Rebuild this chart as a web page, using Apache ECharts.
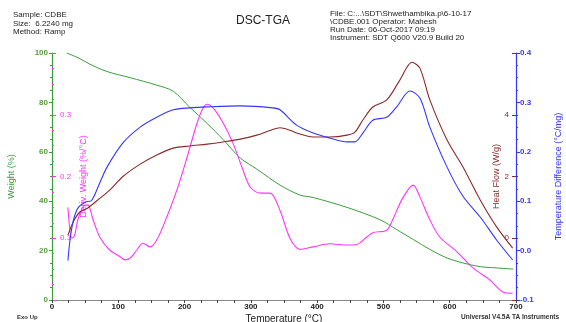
<!DOCTYPE html>
<html>
<head>
<meta charset="utf-8">
<title>DSC-TGA</title>
<script src="https://cdn.jsdelivr.net/npm/echarts@6/dist/echarts.min.js"></script>
<style>
  html, body { margin: 0; padding: 0; background: #fff; }
  #chart { width: 566px; height: 322px; }
</style>
</head>
<body>
<div id="chart"></div>
<script>
// weight (%) vs temperature
const weightT = [22, 40, 57, 83, 118, 158, 183, 208, 234, 258, 284, 309, 344, 374, 394, 445, 495, 520, 545, 570, 596, 620, 646, 670, 696]
const weightPct = [100, 98, 95.5, 92.5, 90, 87, 84.5, 78, 71.5, 65, 57.5, 53, 46.5, 42.5, 41.5, 37.5, 32.5, 28.5, 24.5, 20.5, 17, 15, 13.5, 13, 12.5]

// deriv. weight (%/°C)
const derivT = [24, 30, 34, 39, 47, 54, 62, 72, 87, 103, 110, 118, 128, 137, 148, 158, 173, 189, 204, 219, 228, 234, 243, 258, 273, 288, 299, 314, 329, 344, 359, 374, 394, 419, 445, 460, 475, 484, 505, 514, 529, 545, 555, 570, 585, 611, 635, 661, 680, 695]
const derivW = [0.15, 0.1, 0.104, 0.13, 0.151, 0.154, 0.13, 0.102, 0.081, 0.07, 0.065, 0.068, 0.081, 0.092, 0.086, 0.097, 0.134, 0.18, 0.232, 0.287, 0.311, 0.317, 0.311, 0.287, 0.254, 0.211, 0.183, 0.173, 0.173, 0.145, 0.1, 0.082, 0.086, 0.091, 0.089, 0.09, 0.102, 0.109, 0.113, 0.13, 0.165, 0.186, 0.167, 0.13, 0.102, 0.078, 0.052, 0.032, 0.013, 0.011]

// heat flow (W/g)
const hfT = [24, 32, 42, 54, 69, 87, 107, 133, 158, 183, 208, 234, 258, 284, 309, 330, 344, 359, 369, 394, 419, 445, 457, 469, 484, 505, 525, 543, 555, 570, 596, 620, 646, 671, 695]
const hfW = [0.1, 0.53, 0.85, 0.98, 1.24, 1.56, 2.0, 2.4, 2.7, 2.92, 2.99, 3.05, 3.12, 3.21, 3.34, 3.5, 3.58, 3.5, 3.41, 3.28, 3.28, 3.34, 3.44, 3.83, 4.25, 4.48, 5.13, 5.7, 5.51, 4.48, 3.18, 2.31, 1.24, 0.36, -0.32]

// temperature difference (°C/mg)
const tdT = [24, 28, 33, 40, 50, 60, 72, 83, 107, 133, 158, 183, 208, 234, 284, 333, 344, 369, 394, 419, 445, 457, 469, 484, 505, 520, 540, 555, 570, 596, 620, 646, 671, 695]
const tdV = [-0.02, 0.03, 0.065, 0.088, 0.098, 0.102, 0.137, 0.169, 0.218, 0.25, 0.27, 0.285, 0.289, 0.291, 0.293, 0.289, 0.285, 0.254, 0.238, 0.228, 0.22, 0.22, 0.238, 0.264, 0.27, 0.291, 0.323, 0.309, 0.25, 0.169, 0.11, 0.068, 0.021, -0.019]

const GREEN = '#3a9e3a'
const MAGENTA = '#ff33ff'
const BROWN = '#8b2a2a'
const BLUE = '#3535ff'
const FONT = 'Liberation Sans'

function pairs(xs, ys) {
  return xs.map((x, i) => [x, ys[i]])
}

const chart = echarts.init(document.getElementById('chart'))

chart.setOption({
  animation: false,
  textStyle: { fontFamily: FONT },
  title: [
    {
      text: 'Sample: CDBE\nSize:  6.2240 mg\nMethod: Ramp',
      left: 13, top: 11, padding: 0,
      textStyle: { fontSize: 8, fontWeight: 'normal', lineHeight: 8.5, color: '#222' }
    },
    {
      text: 'DSC-TGA',
      left: 236, top: 15, padding: 0,
      textStyle: { fontSize: 12, fontWeight: 'normal', color: '#222' }
    },
    {
      text: 'File: C:...\\SDT\\Shwethambika.p\\6-10-17\n\\CDBE.001 Operator: Mahesh\nRun Date: 06-Oct-2017 09:19\nInstrument: SDT Q600 V20.9 Build 20',
      left: 330, top: 10, padding: 0,
      textStyle: { fontSize: 8, fontWeight: 'normal', lineHeight: 7.8, color: '#222' }
    },
    {
      text: 'Exo Up',
      left: 17, top: 314, padding: 0,
      textStyle: { fontSize: 6, fontWeight: 'bold', color: '#333' }
    },
    {
      text: 'Universal V4.5A TA Instruments',
      left: 461, top: 314, padding: 0,
      textStyle: { fontSize: 6.5, fontWeight: 'bold', color: '#333' }
    }
  ],
  grid: { left: 52, right: 50, top: 53, bottom: 22, outerBoundsMode: 'none', containLabel: false },
  xAxis: [
    {
      type: 'value',
      min: 0, max: 700, interval: 100,
      name: 'Temperature (°C)',
      nameLocation: 'middle',
      nameGap: 14,
      nameMoveOverlap: false,
      nameTextStyle: { fontSize: 10, color: '#222' },
      axisLine: { lineStyle: { color: '#444' } },
      axisTick: { length: 3, lineStyle: { color: '#444' } },
      minorTick: { show: true, splitNumber: 4, length: 3, lineStyle: { color: '#444' } },
      axisLabel: { fontSize: 8, color: '#222', margin: 3, fontWeight: 'bold' },
      splitLine: { show: false }
    },
    {
      type: 'value',
      position: 'top',
      min: 0, max: 700,
      axisLine: { show: true, lineStyle: { color: '#888' } },
      axisTick: { show: false },
      axisLabel: { show: false },
      splitLine: { show: false }
    }
  ],
  yAxis: [
    {
      type: 'value',
      min: 0, max: 100, interval: 20,
      position: 'left',
      name: 'Weight (%)',
      nameLocation: 'middle',
      nameGap: 36,
      nameMoveOverlap: false,
      nameTextStyle: { fontSize: 9, color: GREEN },
      axisLine: { show: true, lineStyle: { color: GREEN, width: 1.2 } },
      axisTick: { length: 3, lineStyle: { color: GREEN } },
      minorTick: { show: true, splitNumber: 4, length: 2, lineStyle: { color: GREEN } },
      axisLabel: { fontSize: 8, color: '#5a9a3a', margin: 4, fontWeight: 'bold' },
      splitLine: { show: false }
    },
    {
      type: 'value',
      min: 0, max: 0.4, interval: 0.1,
      position: 'left',
      name: 'Deriv. Weight (%/°C)',
      nameLocation: 'middle',
      nameGap: -36,
      nameMoveOverlap: false,
      nameTextStyle: { fontSize: 9, color: MAGENTA },
      axisLine: { show: false },
      axisTick: { show: true, inside: true, length: 4, lineStyle: { color: MAGENTA } },
      minorTick: { show: true, splitNumber: 4, length: 2, lineStyle: { color: MAGENTA } },
      axisLabel: {
        inside: true, fontSize: 8, color: MAGENTA, margin: 8,
        formatter: v => (v > 0.05 && v < 0.35) ? v.toFixed(1) : ''
      },
      splitLine: { show: false }
    },
    {
      type: 'value',
      min: -2, max: 6, interval: 2,
      position: 'right',
      name: 'Heat Flow (W/g)',
      nameLocation: 'middle',
      nameGap: -24,
      nameMoveOverlap: false,
      nameTextStyle: { fontSize: 9, color: BROWN },
      axisLine: { show: false },
      axisTick: { show: true, inside: true, length: 4, lineStyle: { color: BROWN } },
      minorTick: { show: false },
      axisLabel: {
        inside: true, fontSize: 8, color: BROWN, margin: 7,
        formatter: v => (v > -1 && v < 5) ? String(v) : ''
      },
      splitLine: { show: false }
    },
    {
      type: 'value',
      min: -0.1, max: 0.4, interval: 0.1,
      position: 'right',
      name: 'Temperature Difference (°C/mg)',
      nameLocation: 'middle',
      nameGap: 38,
      nameMoveOverlap: false,
      nameTextStyle: { fontSize: 9, color: BLUE },
      axisLine: { show: true, lineStyle: { color: BLUE, width: 1.2 } },
      axisTick: { length: 4, lineStyle: { color: BLUE } },
      minorTick: { show: true, splitNumber: 4, length: 2, lineStyle: { color: BLUE } },
      axisLabel: { fontSize: 8, color: BLUE, margin: 4, fontWeight: 'bold', formatter: v => v.toFixed(1) },
      splitLine: { show: false }
    }
  ],
  series: [
    {
      name: 'Weight',
      type: 'line',
      yAxisIndex: 0,
      data: pairs(weightT, weightPct),
      smooth: 0.3,
      showSymbol: false,
      lineStyle: { color: GREEN, width: 1 }
    },
    {
      name: 'Deriv. Weight',
      type: 'line',
      yAxisIndex: 1,
      data: pairs(derivT, derivW),
      smooth: 0.3,
      showSymbol: false,
      lineStyle: { color: MAGENTA, width: 1.1 }
    },
    {
      name: 'Heat Flow',
      type: 'line',
      yAxisIndex: 2,
      data: pairs(hfT, hfW),
      smooth: 0.3,
      showSymbol: false,
      lineStyle: { color: BROWN, width: 1.1 }
    },
    {
      name: 'Temperature Difference',
      type: 'line',
      yAxisIndex: 3,
      data: pairs(tdT, tdV),
      smooth: 0.3,
      showSymbol: false,
      lineStyle: { color: BLUE, width: 1.1 }
    }
  ]
})
</script>
</body>
</html>
